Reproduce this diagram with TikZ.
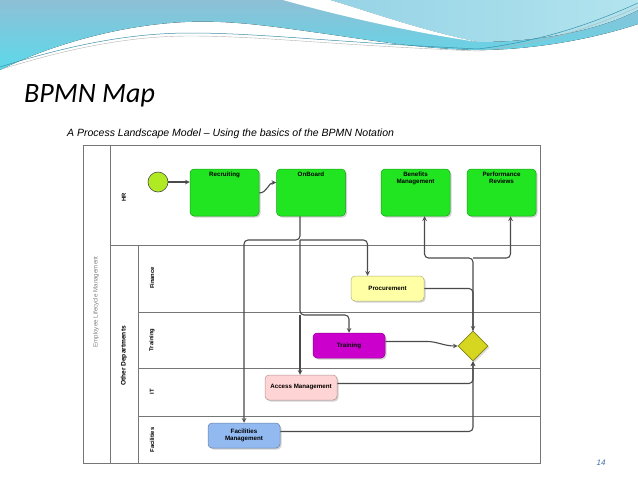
\documentclass[tikz,border=0pt]{standalone}
\usepackage{fontspec}
\setmainfont{Liberation Sans}
\newfontfamily\titlefont{Carlito}
\usetikzlibrary{shapes.geometric,shadows}

\definecolor{hdrtop}{HTML}{8DC0D6}
\definecolor{hdrbot}{HTML}{5CD9EA}
\definecolor{hdrlight}{HTML}{B2E4EE}
\definecolor{hdrmid}{HTML}{96D3E6}
\definecolor{hdrline}{HTML}{3C8FA8}
\definecolor{laneline}{HTML}{767676}
\definecolor{flowline}{HTML}{4A4A4A}
\definecolor{taskgreen}{HTML}{22E522}
\definecolor{procyellow}{HTML}{FFFFA6}
\definecolor{trainpurple}{HTML}{CC00CC}
\definecolor{accesspink}{HTML}{FFD4D4}
\definecolor{facblue}{HTML}{92B9F0}
\definecolor{gateyellow}{HTML}{D6D621}
\definecolor{startgreen}{HTML}{B0EA22}
\definecolor{pagenum}{HTML}{3F6FA8}

\tikzset{
  lane/.style={draw=laneline, line width=1pt},
  flow/.style={->, >=stealth, draw=flowline, line width=1.1pt, rounded corners=4pt},
  task/.style={rounded corners=4pt, minimum width=69pt, minimum height=47pt,
    fill=taskgreen, draw=taskgreen!70!black, line width=0.5pt,
    drop shadow={opacity=0.35, shadow xshift=1.5pt, shadow yshift=-1.5pt}},
  subtask/.style={task, minimum width=72pt, minimum height=25pt,
    font=\fontsize{6.2}{6.8}\selectfont\bfseries, align=center},
  tasklbl/.style={font=\fontsize{6.2}{6.8}\selectfont\bfseries, align=center,
    anchor=north, inner sep=3pt},
  lanelbl/.style={rotate=90, font=\fontsize{5.8}{6}\selectfont\bfseries},
}

\begin{document}
\begin{tikzpicture}[x=1pt, y=-1pt]
  \useasboundingbox (0,0) rectangle (638,479);
  % header swoosh
  \fill[top color=hdrtop, bottom color=hdrbot] (0,0) -- (638,0) -- (638,24)
    .. controls (590,40) and (530,50) .. (478,50)
    .. controls (420,49) and (370,40) .. (320,33)
    .. controls (270,26) and (230,20) .. (185,22)
    .. controls (120,25) and (50,45) .. (0,70) -- cycle;
  \fill[left color=hdrmid, right color=hdrlight] (330,0) -- (638,0) -- (638,10)
    .. controls (600,30) and (540,42) .. (478,42)
    .. controls (420,30) and (370,12) .. (330,0);
  \fill[white] (283,0) .. controls (340,16) and (410,32) .. (478,42)
    .. controls (420,30) and (370,12) .. (330,0) -- cycle;
  \draw[hdrline, line width=0.5pt] (0,67) .. controls (70,45) and (130,33) .. (190,33)
    .. controls (260,33) and (330,42) .. (478,49) .. controls (550,40) and (600,20) .. (638,3);
  \draw[gray!60, line width=0.4pt] (2,69) .. controls (70,48) and (130,36) .. (190,36)
    .. controls (260,36) and (330,45) .. (478,51) .. controls (550,43) and (600,24) .. (638,7);

  % titles
  \node[anchor=base west, inner sep=0, font=\titlefont\itshape\fontsize{28}{30}\selectfont] (title) at (24,102) {BPMN Map};
  \node[anchor=base west, inner sep=0, font=\itshape\fontsize{10.5}{12}\selectfont] (subtitle) at (67,136)
    {A Process Landscape Model -- Using the basics of the BPMN Notation};
  \node[inner sep=0, text=pagenum, font=\itshape\fontsize{8}{9}\selectfont] (page) at (601,463) {14};

  % pools and lanes
  \draw[lane] (83,145) rectangle (540,463);
  \draw[lane] (110,145) -- (110,463);
  \draw[lane] (110,245) -- (540,245);
  \draw[lane] (138,245) -- (138,463);
  \foreach \y in {312,368,416} \draw[lane] (138,\y) -- (540,\y);
  \node[rotate=90, text=gray, font=\fontsize{6.2}{7}\selectfont] (pool) at (96,302) {Employee Lifecycle Management};
  \node[lanelbl] (hr) at (124,197) {HR};
  \node[lanelbl, font=\fontsize{6.6}{7}\selectfont\bfseries] (other) at (124,356) {Other Departments};
  \foreach \y/\lbl in {278/Finance, 340/Training, 392/IT, 440/Facilities}
    \node[lanelbl] (lane-\lbl) at (152,\y) {\lbl};

  % tasks
  \node[circle, minimum size=20pt, inner sep=0, fill=startgreen, draw=black!70, line width=0.6pt] (start) at (158,182) {};
  \node[task, label={[tasklbl]north:Recruiting}] (recruit) at (224.5,192.5) {};
  \node[task, label={[tasklbl]north:OnBoard}] (onboard) at (311,192.5) {};
  \node[task, label={[tasklbl]north:Benefits\\Management}] (benefits) at (415.5,192.5) {};
  \node[task, label={[tasklbl]north:Performance\\Reviews}] (perf) at (501.5,192.5) {};
  \node[subtask, minimum width=73pt, fill=procyellow, draw=procyellow!70!black] (procure) at (387.5,288.5) {Procurement};
  \node[subtask, fill=trainpurple, draw=trainpurple!70!black] (training) at (349,345.5) {Training};
  \node[subtask, fill=accesspink, draw=accesspink!70!black] (access) at (301,387.5) {Access Management};
  \node[subtask, fill=facblue, draw=facblue!70!black] (facil) at (244,435.5) {Facilities\\Management};
  \node[diamond, minimum size=30pt, inner sep=0, fill=gateyellow, draw=gateyellow!60!black, line width=0.6pt,
    drop shadow={opacity=0.3, shadow xshift=1.5pt, shadow yshift=-1.5pt}] (gate) at (473,346) {};

  % junctions
  \coordinate (hub) at (300,240);
  \coordinate (tbend) at (300,315);
  \coordinate (top) at (473,258);

  % flows
  \draw[flow] (start.east) -- (start.east -| recruit.west);
  \draw[flow] ([yshift=-0.5pt]recruit.east) to[out=0, in=180] ([yshift=10pt]onboard.west);
  \draw[flow] (onboard.south -| hub) -- (hub) -| (facil.north);
  \draw[flow] (hub) -| ([xshift=-20pt]procure.north);
  \draw[flow] (hub) -- (tbend) -| (training.north);
  \draw[flow] (tbend) -- (tbend |- access.north);
  \draw[flow] (procure.east) -| (gate.north);
  \draw[flow] (gate.north) -- (top) -| ([xshift=9pt]benefits.south);
  \draw[flow] (top) -| ([xshift=9pt]perf.south);
  \draw[flow] ([yshift=4pt]training.east) -- ++(38,0) to[out=0, in=180] (gate.west);
  \draw[flow] ([yshift=4pt]access.east) -| (gate.south);
  \draw[flow] ([yshift=4pt]facil.east) -| (gate.south);
\end{tikzpicture}
\end{document}
